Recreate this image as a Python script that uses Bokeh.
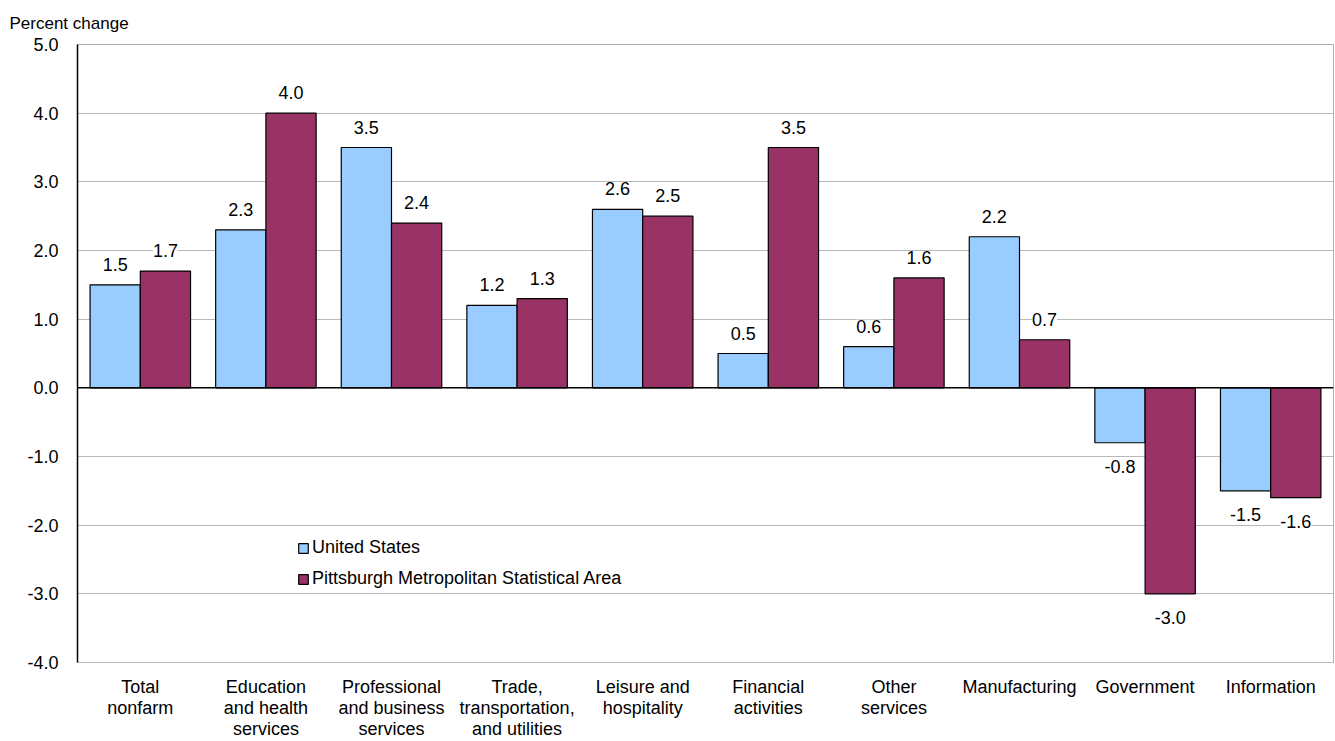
from bokeh.plotting import figure
from bokeh.models import (ColumnDataSource, LabelSet, FixedTicker, PrintfTickFormatter,
                          Span, Legend, LegendItem, Range1d, Title)
from bokeh.core.properties import value
from bokeh.embed import file_html
from bokeh.resources import INLINE

categories = ["Total\nnonfarm", "Education\nand health\nservices", "Professional\nand business\nservices",
              "Trade,\ntransportation,\nand utilities", "Leisure and\nhospitality", "Financial\nactivities",
              "Other\nservices", "Manufacturing", "Government", "Information"]
us_values = [1.5, 2.3, 3.5, 1.2, 2.6, 0.5, 0.6, 2.2, -0.8, -1.5]
pgh_values = [1.7, 4.0, 2.4, 1.3, 2.5, 3.5, 1.6, 0.7, -3.0, -1.6]
y_ticks = [-4, -3, -2, -1, 0, 1, 2, 3, 4, 5]
series_names = ["United States", "Pittsburgh Metropolitan Statistical Area"]

FONT = "Liberation Sans"
FS = "18px"
BLUE = "#99ccff"
MAROON = "#993366"

idx = list(range(len(categories)))

p = figure(width=1335, height=741, output_backend="svg", toolbar_location=None,
           x_range=Range1d(-0.5, len(categories) - 0.5), y_range=Range1d(-4, 5),
           min_border_left=77, min_border_right=2, min_border_top=44, min_border_bottom=78)
p.outline_line_color = "#b0b0b0"
p.background_fill_color = "white"

title = Title(text="Percent change", align="left", offset=-68, text_font=FONT,
              text_font_size="17px", text_font_style="normal", text_color="black", standoff=23)
p.add_layout(title, "above")

src_us = ColumnDataSource(dict(x=[i - 0.2 for i in idx], top=us_values))
src_pgh = ColumnDataSource(dict(x=[i + 0.2 for i in idx], top=pgh_values))

r_us = p.vbar(x="x", top="top", bottom=0, width=0.4, source=src_us,
              fill_color=BLUE, line_color="black", line_width=1.2)
r_pgh = p.vbar(x="x", top="top", bottom=0, width=0.4, source=src_pgh,
               fill_color=MAROON, line_color="black", line_width=1.2)

p.add_layout(Span(location=0, dimension="width", line_color="black", line_width=1.5))

for offset, vals in ((-0.2, us_values), (0.2, pgh_values)):
    xs = [i + offset for i in idx]
    pos_src = ColumnDataSource(dict(x=[x for x, v in zip(xs, vals) if v >= 0],
                                    y=[v for v in vals if v >= 0],
                                    label=[f"{v:.1f}" for v in vals if v >= 0]))
    neg_src = ColumnDataSource(dict(x=[x for x, v in zip(xs, vals) if v < 0],
                                    y=[v for v in vals if v < 0],
                                    label=[f"{v:.1f}" for v in vals if v < 0]))
    p.add_layout(LabelSet(x="x", y="y", text="label", source=pos_src, text_align="center",
                          text_baseline="bottom", y_offset=14, text_font=value(FONT),
                          text_font_size=value(FS), text_color="black",
                          background_fill_color="white"))
    p.add_layout(LabelSet(x="x", y="y", text="label", source=neg_src, text_align="center",
                          text_baseline="top", y_offset=-17, text_font=value(FONT),
                          text_font_size=value(FS), text_color="black",
                          background_fill_color="white"))

p.ygrid.ticker = FixedTicker(ticks=y_ticks)
p.ygrid.grid_line_color = "#b8b8b8"
p.xgrid.grid_line_color = None

p.yaxis.ticker = FixedTicker(ticks=y_ticks)
p.yaxis.formatter = PrintfTickFormatter(format="%.1f")
p.yaxis.major_tick_line_color = None
p.yaxis.minor_tick_line_color = None
p.yaxis.major_tick_out = 0
p.yaxis.major_tick_in = 0
p.yaxis.axis_line_color = "black"
p.yaxis.axis_line_width = 1.5
p.yaxis.major_label_standoff = 19
p.yaxis.major_label_text_font = FONT
p.yaxis.major_label_text_font_size = FS
p.yaxis.major_label_text_color = "black"

p.xaxis.ticker = FixedTicker(ticks=idx)
p.xaxis.major_label_overrides = {i: c for i, c in zip(idx, categories)}
p.xaxis.major_tick_line_color = None
p.xaxis.minor_tick_line_color = None
p.xaxis.major_tick_out = 0
p.xaxis.major_tick_in = 0
p.xaxis.axis_line_color = "#b8b8b8"
p.xaxis.major_label_standoff = 14
p.xaxis.major_label_text_font = FONT
p.xaxis.major_label_text_font_size = FS
p.xaxis.major_label_text_color = "black"
p.xaxis.major_label_text_line_height = 1.05

legend = Legend(items=[LegendItem(label=series_names[0], renderers=[r_us]),
                       LegendItem(label=series_names[1], renderers=[r_pgh])],
                location=(220, 73), background_fill_alpha=0, border_line_color=None,
                glyph_width=12, glyph_height=12, label_text_font=FONT, label_text_font_size=FS,
                label_text_color="black", spacing=10, label_standoff=3, padding=0, margin=0)
p.add_layout(legend, "center")

open("out.html", "w").write(file_html(p, INLINE))
